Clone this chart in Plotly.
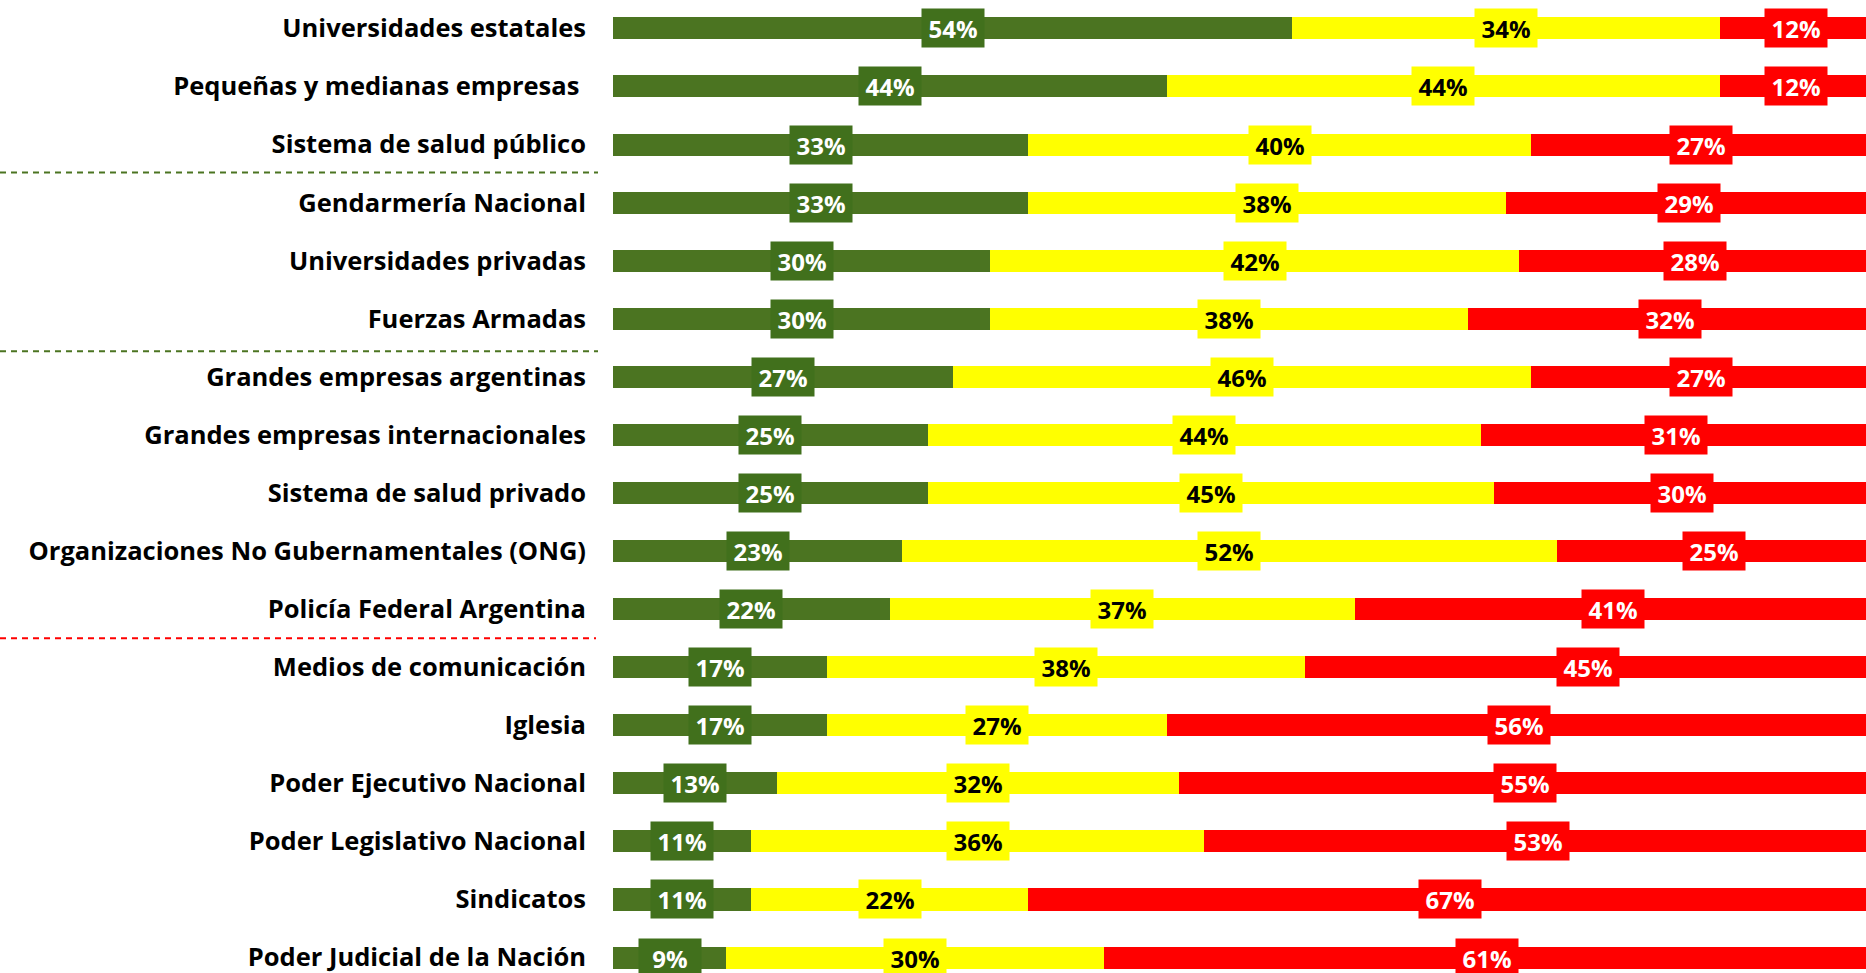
import plotly.graph_objects as go

categories = [
    "Universidades estatales",
    "Pequeñas y medianas empresas ",
    "Sistema de salud público",
    "Gendarmería Nacional",
    "Universidades privadas",
    "Fuerzas Armadas",
    "Grandes empresas argentinas",
    "Grandes empresas internacionales",
    "Sistema de salud privado",
    "Organizaciones No Gubernamentales (ONG)",
    "Policía Federal Argentina",
    "Medios de comunicación",
    "Iglesia",
    "Poder Ejecutivo Nacional",
    "Poder Legislativo Nacional",
    "Sindicatos",
    "Poder Judicial de la Nación",
]
positive = [54, 44, 33, 33, 30, 30, 27, 25, 25, 23, 22, 17, 17, 13, 11, 11, 9]
neutral = [34, 44, 40, 38, 42, 38, 46, 44, 45, 52, 37, 38, 27, 32, 36, 22, 30]
negative = [12, 12, 27, 29, 28, 32, 27, 31, 30, 25, 41, 45, 56, 55, 53, 67, 61]

# dashed separators placed between category groups (category index positions)
green_separators = [2.48, 5.56]
red_separators = [10.5]

GREEN = "#4B7421"
GREEN_BOX = "#41701C"
YELLOW = "#FFFF00"
RED = "#FF0000"

W, H = 1866, 973
LEFT = 613
FONT = "Open Sans"

n = len(categories)
idx = list(range(n))

fig = go.Figure()
for vals, col in [(positive, GREEN), (neutral, YELLOW), (negative, RED)]:
    fig.add_trace(go.Bar(
        y=idx, x=vals, orientation="h", marker=dict(color=col, line=dict(width=0)),
        width=0.38, showlegend=False, hoverinfo="skip",
    ))

annotations = []
for i in idx:
    segs = [(positive[i], GREEN_BOX, "white"), (neutral[i], YELLOW, "black"), (negative[i], RED, "white")]
    start = 0
    for v, bg, fc in segs:
        annotations.append(dict(
            x=start + v / 2, y=i, xref="x", yref="y", text=f"<b>{v}%</b>",
            showarrow=False, bgcolor=bg, width=62, height=38, borderpad=0,
            font=dict(family=FONT, size=24, color=fc), align="center", valign="middle",
        ))
        start += v

shapes = []
for ys, col, x1 in [(green_separators, GREEN, 598), (red_separators, RED, 596)]:
    for yv in ys:
        shapes.append(dict(
            type="line", xref="paper", yref="y",
            x0=-LEFT / (W - LEFT), x1=(x1 - LEFT) / (W - LEFT), y0=yv, y1=yv,
            line=dict(color=col, width=2, dash="6px,5px"),
        ))

fig.update_layout(
    width=W, height=H,
    margin=dict(l=LEFT, r=0, t=0, b=0),
    plot_bgcolor="white", paper_bgcolor="white",
    barmode="stack", bargap=0,
    annotations=annotations, shapes=shapes,
    xaxis=dict(range=[0, 100 * (W - LEFT) / 1258], showgrid=False, zeroline=False,
               showticklabels=False, ticks="", showline=False, fixedrange=True),
    yaxis=dict(range=[16 + (H - 961.5) / 58.3, -28.5 / 58.3], tickmode="array",
               tickvals=idx, ticktext=[f"<b>{c}</b>" for c in categories],
               showgrid=False, zeroline=False, showline=False, ticks="",
               ticklabelstandoff=26, ticklabeloverflow="allow", fixedrange=True,
               tickfont=dict(family=FONT, size=25.5, color="black")),
)

fig.write_html("out.html", config={"displayModeBar": False},
               post_script="document.body.style.margin='0';document.body.style.overflow='hidden';")
